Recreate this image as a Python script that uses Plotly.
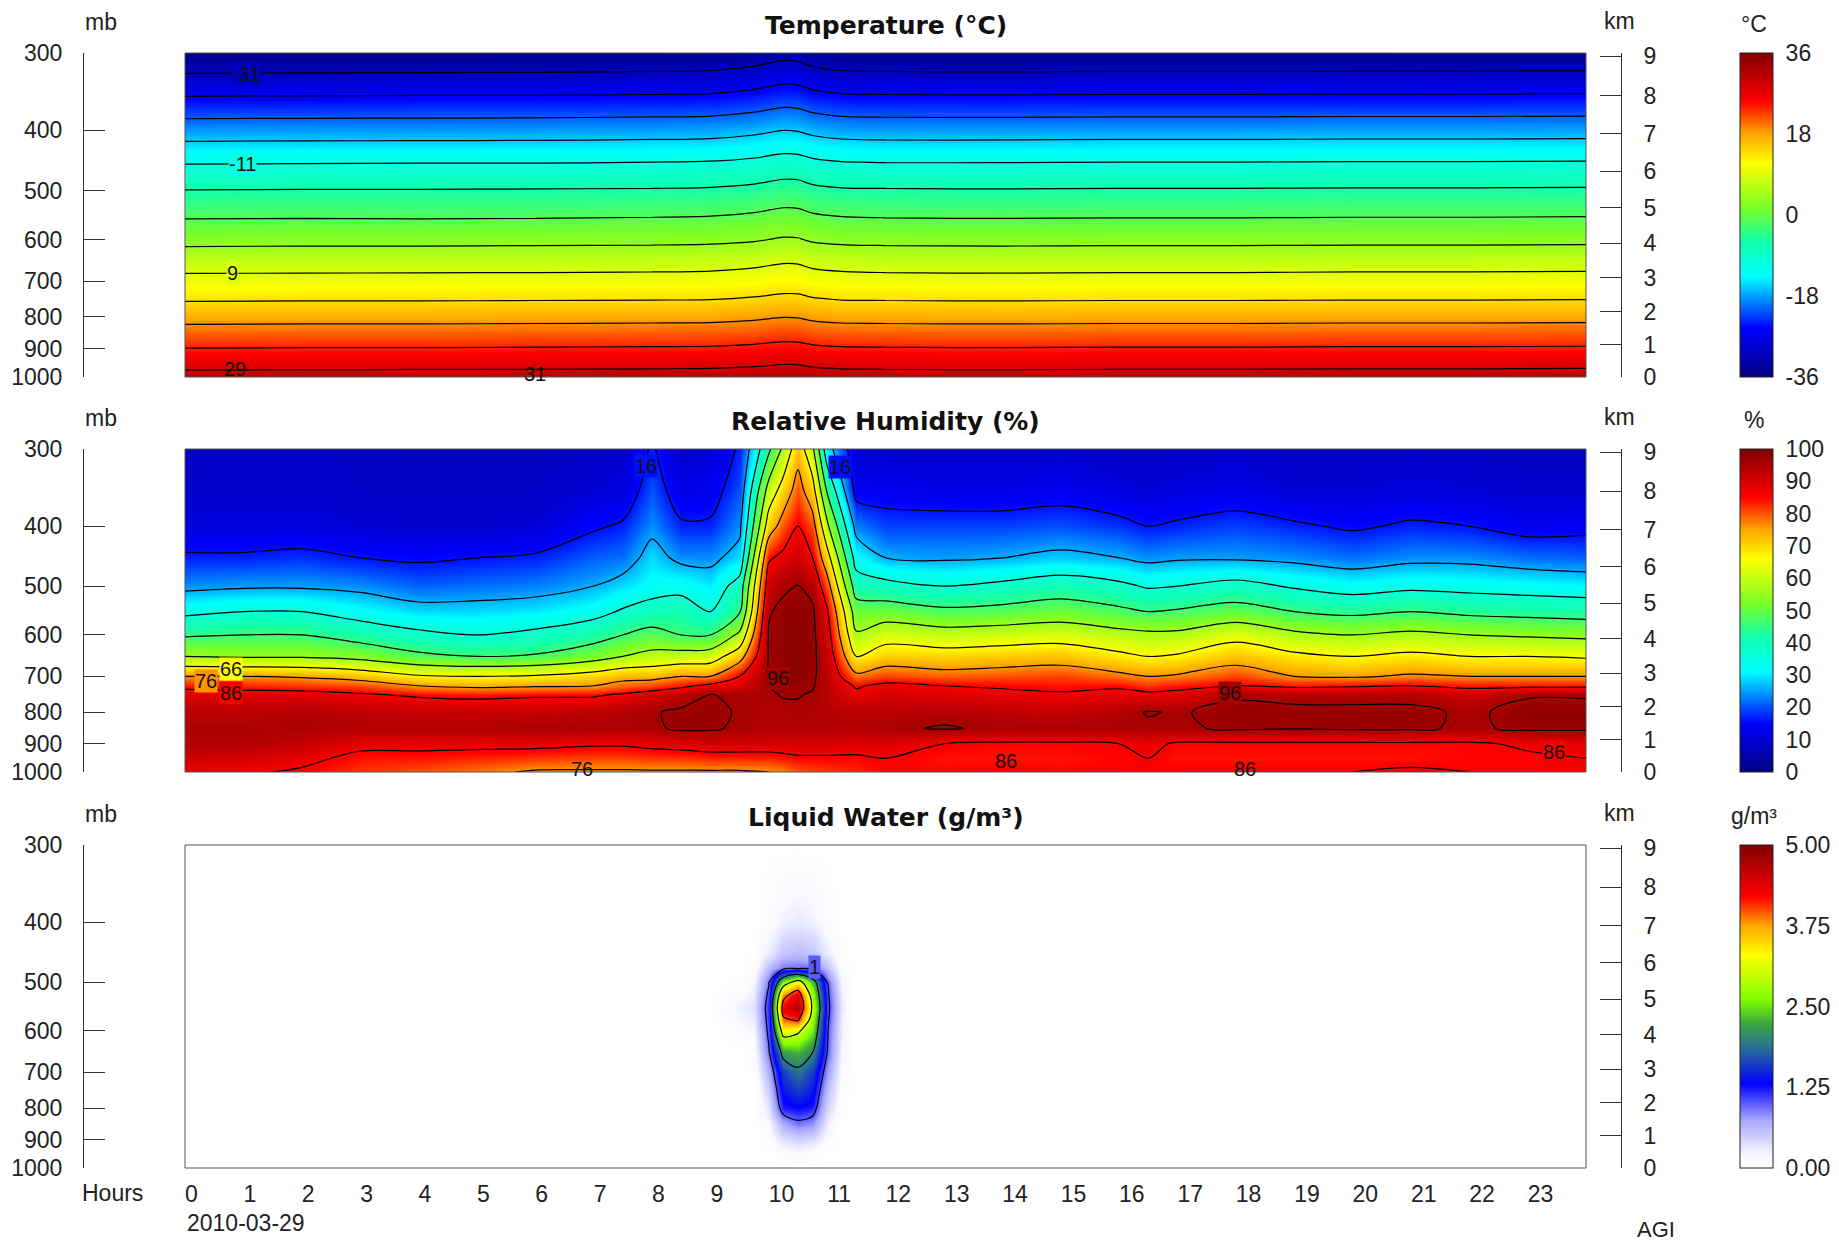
import numpy as np
import plotly.graph_objects as go
from plotly.colors import sample_colorscale

# ---------------- data ----------------
pressure_levels = [300, 350, 400, 450, 500, 550, 600, 650, 700, 725, 750, 800, 850, 900, 950, 1000]

temp_hours = [0, 2, 4, 6, 8, 9, 9.75, 10.25, 10.5, 10.75, 11.25, 12, 14, 16, 18, 20, 22, 24]
temp_profiles = [
    [-35.4, -26.4, -18.4, -11.4, -5.9, -1.5, 2.6, 6.9, 10.3, 12.0, 13.6, 17.4, 20.9, 24.1, 27.4, 30.6],
    [-35.3, -26.3, -18.3, -11.3, -5.8, -1.4, 2.7, 7.0, 10.3, 12.0, 13.7, 17.5, 21.0, 24.2, 27.5, 30.7],
    [-35.3, -26.2, -18.3, -11.2, -5.8, -1.5, 2.7, 7.0, 10.4, 12.1, 13.7, 17.5, 21.0, 24.2, 27.5, 30.8],
    [-35.2, -26.2, -18.2, -11.2, -5.7, -1.4, 2.8, 7.1, 10.4, 12.1, 13.8, 17.6, 21.1, 24.3, 27.6, 30.8],
    [-35.0, -26.0, -18.0, -11.0, -5.6, -1.2, 2.9, 7.2, 10.5, 12.2, 13.9, 17.7, 21.2, 24.4, 27.7, 30.9],
    [-34.8, -25.8, -17.8, -10.8, -5.4, -1.0, 3.1, 7.4, 10.6, 12.3, 14.0, 17.8, 21.3, 24.5, 27.8, 31.0],
    [-33.8, -24.9, -17.0, -10.1, -4.8, -0.4, 3.6, 7.9, 11.1, 12.8, 14.5, 18.3, 21.7, 24.9, 28.2, 31.4],
    [-32.6, -23.8, -16.0, -9.2, -3.9, 0.4, 4.4, 8.6, 11.8, 13.4, 15.1, 18.9, 22.3, 25.4, 28.7, 31.9],
    [-32.8, -24.0, -16.2, -9.3, -4.0, 0.3, 4.3, 8.5, 11.7, 13.4, 15.0, 18.8, 22.2, 25.3, 28.6, 31.8],
    [-33.9, -25.0, -17.1, -10.2, -4.9, -0.5, 3.5, 7.8, 11.0, 12.7, 14.4, 18.2, 21.6, 24.8, 28.1, 31.3],
    [-34.8, -25.8, -17.9, -10.9, -5.5, -1.1, 3.0, 7.3, 10.6, 12.3, 13.9, 17.7, 21.2, 24.4, 27.7, 30.9],
    [-35.0, -26.0, -18.1, -11.1, -5.6, -1.3, 2.8, 7.1, 10.4, 12.1, 13.8, 17.6, 21.1, 24.3, 27.6, 30.8],
    [-35.1, -26.1, -18.1, -11.1, -5.7, -1.4, 2.7, 7.0, 10.3, 12.0, 13.7, 17.5, 21.0, 24.2, 27.5, 30.7],
    [-35.0, -26.0, -18.0, -11.0, -5.6, -1.3, 2.8, 7.1, 10.4, 12.1, 13.8, 17.6, 21.1, 24.3, 27.6, 30.8],
    [-35.0, -26.0, -18.0, -11.0, -5.6, -1.3, 2.8, 7.1, 10.4, 12.1, 13.8, 17.6, 21.1, 24.3, 27.6, 30.8],
    [-35.0, -25.9, -17.9, -10.9, -5.5, -1.2, 2.9, 7.2, 10.5, 12.2, 13.9, 17.7, 21.2, 24.4, 27.7, 30.9],
    [-34.9, -25.9, -17.9, -10.9, -5.5, -1.2, 2.9, 7.2, 10.5, 12.2, 13.9, 17.7, 21.2, 24.4, 27.7, 30.9],
    [-34.9, -25.8, -17.8, -10.8, -5.4, -1.1, 3.0, 7.3, 10.6, 12.3, 14.0, 17.8, 21.3, 24.5, 27.8, 31.0],
]

rh_hours = [0, 1, 2, 3, 4, 5, 6, 7, 7.5, 8, 8.5, 9, 9.5, 10, 10.25, 10.5, 10.75, 11, 11.5, 12,
            13, 14, 15, 16, 16.5, 17, 18, 19, 20, 21, 22, 23, 24]
rh_profiles = [
    [8, 9, 11, 17, 24, 34, 45, 56, 76, 84, 89, 93, 95, 94, 91, 88],
    [8, 9, 11, 17, 25, 36, 46, 55, 76, 83, 89, 93, 95, 94, 90, 87],
    [8, 9, 11, 18, 25, 36, 46, 55, 75, 82, 89, 94, 95, 92, 88, 85],
    [8, 8, 10, 16, 24, 32, 42, 53, 72, 81, 87, 93, 94, 88, 84, 82],
    [7, 8, 9, 15, 21, 29, 38, 48, 67, 76, 85, 92, 94, 88, 84, 80],
    [7, 8, 9, 16, 22, 29, 36, 46, 66, 74, 84, 92, 94, 88, 83, 78],
    [7, 8, 10, 17, 23, 30, 38, 47, 67, 75, 85, 92, 95, 88, 82, 75],
    [8, 10, 15, 21, 26, 33, 42, 52, 70, 76, 85, 93, 95, 87, 81, 75],
    [9, 11, 17, 22, 29, 37, 46, 56, 73, 79, 87, 94, 94.5, 87, 81, 75],
    [17, 20, 24, 29, 32, 40, 49, 59, 73, 81, 90, 95.5, 95, 88, 82, 75],
    [9, 12, 17, 24, 33, 41, 46, 60, 76, 84, 93, 97, 97, 89, 82, 75],
    [10, 13, 17, 24, 30, 36, 46, 61, 76, 88, 96.2, 97.3, 96.8, 90, 83, 75],
    [17, 20, 24, 29, 40, 45, 58, 72, 86, 89, 95, 95.5, 95, 90, 83, 75],
    [44, 60, 71, 85, 91, 95.5, 96.5, 96.5, 96.5, 96, 95, 94, 94, 90, 83, 76],
    [58, 70, 80, 88, 95, 97.5, 98, 98, 98, 97.5, 96.5, 94, 94, 90, 84, 77],
    [72, 80, 86, 91, 96.2, 98.5, 99, 99, 98.5, 97.5, 96.3, 95, 94, 90, 85, 80],
    [58, 70, 80, 86, 94, 97, 97.5, 97.5, 97, 96.5, 95.5, 94.5, 94, 90, 85, 81],
    [30, 45, 58, 70, 80, 87, 90, 92, 93, 93, 93, 94, 94, 90, 85, 82],
    [10, 13, 23, 32, 41, 51, 57, 66, 78, 85, 88, 93, 94, 89, 85, 83],
    [9, 13, 19, 26, 39, 51, 62, 71, 81, 88, 90, 93, 95, 89, 86, 85],
    [9, 12, 19, 25, 36, 48, 60, 70, 79, 86, 89, 94, 96.5, 86, 84, 85],
    [9, 12, 19, 26, 38, 49, 61, 71, 80, 85, 88, 93, 95, 85, 84, 86],
    [9, 13, 20, 28, 41, 51, 62, 72, 81, 84, 87, 92, 95, 85, 84, 85],
    [8, 11, 18, 26, 38, 48, 59, 68, 78, 85, 88, 94, 95, 86, 85, 86],
    [8, 10, 16, 24, 35, 46, 58, 66, 76, 82, 88, 96.4, 95, 88, 86, 86],
    [8, 11, 17, 25, 36, 47, 58, 67, 77, 84, 88, 95.5, 95, 85, 84, 86],
    [9, 12, 19, 25, 39, 50, 63, 72, 81, 86, 95.3, 97.5, 97, 85, 84, 86],
    [8, 10, 17, 24, 35, 46, 58, 68, 76, 84, 94.5, 97.2, 96.3, 85, 84, 86],
    [8, 10, 15, 22, 32, 44, 56, 66, 75, 85, 94, 97.5, 97, 85, 84, 86],
    [8, 11, 17, 24, 34, 46, 58, 68, 77, 86, 94, 97.5, 97, 85, 84, 87],
    [8, 10, 16, 24, 33, 44, 56, 66, 76, 84, 91, 95, 95, 85, 85, 86],
    [7, 9, 13, 22, 32, 43, 55, 66, 76, 84, 95.5, 97.8, 97.2, 87, 85, 86],
    [7, 9, 14, 21, 31, 42, 54, 65, 76, 84, 95.5, 97.8, 97.2, 88, 86, 86],
]

lwc_pressure_levels = [300, 400, 450, 475, 500, 525, 550, 575, 600, 650, 700, 750, 800, 850, 900, 950, 1000]
lwc_hours = [0, 9, 9.5, 9.75, 10, 10.25, 10.5, 10.75, 11, 11.25, 11.5, 12, 24]
lwc_profiles = [
    [0, 0, 0, 0, 0, 0, 0, 0, 0, 0, 0, 0, 0, 0, 0, 0, 0],
    [0, 0, 0, 0, 0, 0, 0, 0, 0, 0, 0, 0, 0, 0, 0, 0, 0],
    [0, 0, 0, 0, 0.05, 0.15, 0.25, 0.2, 0.1, 0, 0, 0, 0, 0, 0, 0, 0],
    [0, 0, 0.05, 0.1, 0.2, 0.3, 0.35, 0.3, 0.2, 0.1, 0.05, 0, 0, 0, 0, 0, 0],
    [0, 0.1, 0.3, 0.6, 0.95, 1.1, 1.2, 1.15, 1.1, 0.95, 0.7, 0.5, 0.35, 0.2, 0.1, 0, 0],
    [0, 0.25, 0.55, 0.9, 2.6, 3.8, 4.3, 3.9, 3.3, 2.2, 1.6, 1.4, 1.2, 0.7, 0.35, 0.1, 0],
    [0, 0.3, 0.6, 0.95, 3.3, 4.4, 4.7, 4.1, 3.1, 2.3, 1.9, 1.6, 1.3, 0.9, 0.45, 0.15, 0],
    [0, 0.25, 0.55, 0.9, 2.3, 2.7, 2.9, 2.7, 2.5, 2.0, 1.6, 1.4, 1.2, 0.8, 0.4, 0.1, 0],
    [0, 0.1, 0.3, 0.6, 1.0, 1.1, 1.15, 1.1, 1.05, 1.0, 0.8, 0.6, 0.45, 0.3, 0.15, 0, 0],
    [0, 0, 0.05, 0.1, 0.2, 0.25, 0.3, 0.25, 0.25, 0.2, 0.15, 0.1, 0.05, 0, 0, 0, 0],
    [0, 0, 0, 0, 0, 0, 0, 0, 0, 0, 0, 0, 0, 0, 0, 0, 0],
    [0, 0, 0, 0, 0, 0, 0, 0, 0, 0, 0, 0, 0, 0, 0, 0, 0],
    [0, 0, 0, 0, 0, 0, 0, 0, 0, 0, 0, 0, 0, 0, 0, 0, 0],
]

hour_ticks = list(range(24))
pressure_ticks = [300, 400, 500, 600, 700, 800, 900, 1000]
km_ticks = list(range(10))

temp_cbar_ticks = [-36, -18, 0, 18, 36]
rh_cbar_ticks = list(range(0, 101, 10))
lwc_cbar_ticks = [0, 1.25, 2.5, 3.75, 5.0]

# contour labels shown on the chart: (text, hour, pressure, level)
temp_labels = [("-31", 1.05, 324, -31), ("-11", 0.98, 453, -11), ("9", 0.82, 679, 9),
               ("29", 0.85, 972, 29), ("31", 6.0, 990, 31)]
rh_labels = [("16", 7.9, 320, 16), ("16", 11.22, 321, 16), ("66", 0.78, 680, 66),
             ("76", 0.36, 713, 76), ("86", 0.78, 746, 86), ("96", 10.15, 705, 96),
             ("96", 17.9, 745, 96), ("86", 14.07, 961, 86), ("86", 23.45, 927, 86),
             ("76", 6.8, 988, 76), ("86", 18.15, 988, 86)]
lwc_labels = [("1", 10.78, 473, 1)]

# ---------------- layout helpers ----------------
W, H, OFF = 1831, 1234, 8


def FX(x):
    return (x - OFF) / W


def FY(y):
    return 1 - (y - OFF) / H


JET = [[0.0, "rgb(0,0,130)"], [0.15, "rgb(0,0,255)"], [0.31, "rgb(0,255,255)"],
       [0.42, "rgb(20,255,170)"], [0.52, "rgb(120,255,40)"], [0.66, "rgb(255,255,0)"],
       [0.75, "rgb(255,165,0)"], [0.85, "rgb(255,0,0)"], [1.0, "rgb(128,0,0)"]]
LWCSCALE = [[0.0, "rgb(255,255,255)"], [0.04, "rgb(248,248,255)"], [0.15, "rgb(165,165,255)"],
            [0.26, "rgb(0,0,255)"], [0.37, "rgb(40,110,150)"], [0.45, "rgb(60,170,60)"],
            [0.52, "rgb(128,255,0)"], [0.66, "rgb(255,255,0)"], [0.75, "rgb(255,165,0)"],
            [0.84, "rgb(255,0,0)"], [1.0, "rgb(128,0,0)"]]

TICKFONT = dict(family="Liberation Sans, Arial, sans-serif", size=23, color="#222")
panels = [(53, 377), (449, 772), (845, 1168)]
km_pressure = [1000 * (1 - 2.25577e-5 * k * 1000) ** 5.25588 for k in km_ticks]
prange = [np.log10(1000), np.log10(300)]

fig = go.Figure()


def add_panel(i, hours, plevels, profiles, scale, zmin, zmax, cstart, cend, csize, cticks, ctickfmt):
    top, bot = panels[i]
    z = np.array(profiles, dtype=float).T
    xa = "x" if i == 0 else f"x{i+1}"
    ya = "y" if i == 0 else f"y{i+1}"
    fig.add_trace(go.Heatmap(
        x=hours, y=plevels, z=z, xaxis=xa, yaxis=ya, zsmooth="best",
        colorscale=scale, zmin=zmin, zmax=zmax, hoverinfo="skip",
        colorbar=dict(
            x=FX(1740), xanchor="left", xpad=0, ypad=0,
            y=FY(top), yanchor="top", len=(bot - top) / H, lenmode="fraction",
            thickness=33, thicknessmode="pixels",
            outlinewidth=1, outlinecolor="#222",
            tickvals=cticks, ticktext=[ctickfmt(v) for v in cticks],
            ticks="outside", ticklen=8, tickcolor="rgba(0,0,0,0)",
            tickfont=TICKFONT,
        ),
    ))
    fig.add_trace(go.Contour(
        x=hours, y=plevels, z=z, xaxis=xa, yaxis=ya,
        autocontour=False, showscale=False,
        contours=dict(start=cstart, end=cend, size=csize, coloring="none", showlines=True),
        line=dict(color="black", width=1.2, smoothing=0.9),
        hoverinfo="skip",
    ))
    # invisible trace so that the km axis of this panel is drawn
    fig.add_trace(go.Scatter(x=[None], y=[None], xaxis=xa, yaxis=f"y{i+4}",
                             mode="markers", showlegend=False, hoverinfo="skip"))


add_panel(0, temp_hours, pressure_levels, temp_profiles, JET, -36, 36, -31, 29, 5,
          temp_cbar_ticks, lambda v: f"{v:d}")
add_panel(1, rh_hours, pressure_levels, rh_profiles, JET, 0, 100, 16, 96, 10,
          rh_cbar_ticks, lambda v: f"{v:d}")
add_panel(2, lwc_hours, lwc_pressure_levels, lwc_profiles, LWCSCALE, 0, 5, 1, 4, 1,
          lwc_cbar_ticks, lambda v: f"{v:.2f}")

layout = dict(width=W, height=H, margin=dict(l=0, r=0, t=0, b=0, pad=0, autoexpand=False),
              paper_bgcolor="white", plot_bgcolor="white", showlegend=False)
shapes = []
annotations = []
for i, (top, bot) in enumerate(panels):
    sx = "" if i == 0 else str(i + 1)
    layout[f"xaxis{sx}"] = dict(
        domain=[FX(185), FX(1586)], range=[0, 24], anchor=f"y{sx}",
        showgrid=False, zeroline=False, showline=False, ticks="",
        showticklabels=(i == 2),
        tickvals=hour_ticks, ticktext=[str(h) for h in hour_ticks],
        ticklabelposition="outside right", ticklabelstandoff=10,
        tickfont=TICKFONT,
    )
    layout[f"yaxis{sx}"] = dict(
        domain=[FY(bot), FY(top)], type="log", range=prange,
        anchor="free", position=FX(83),
        showgrid=False, zeroline=False, showline=True, linecolor="#333", linewidth=1,
        ticks="inside", ticklen=21, tickcolor="#333", tickwidth=1,
        tickvals=pressure_ticks, ticktext=[str(p) for p in pressure_ticks],
        tickfont=TICKFONT, ticklabelstandoff=16,
    )
    layout[f"yaxis{i+4}"] = dict(
        overlaying=f"y{sx}", side="right", type="log", range=prange,
        anchor="free", position=FX(1621),
        showgrid=False, zeroline=False, showline=True, linecolor="#333", linewidth=1,
        ticks="inside", ticklen=21, tickcolor="#333", tickwidth=1,
        tickvals=km_pressure, ticktext=[str(k) for k in km_ticks],
        tickfont=TICKFONT, ticklabelstandoff=17,
    )
    shapes.append(dict(type="rect", xref=f"x{sx} domain", yref=f"y{sx} domain",
                       x0=0, x1=1, y0=0, y1=1, line=dict(color="#555", width=1), layer="above"))
    annotations.append(dict(text="mb", xref="paper", yref="paper", x=FX(83), y=FY(top - 31),
                            xanchor="left", yanchor="middle", showarrow=False, font=TICKFONT))
    annotations.append(dict(text="km", xref="paper", yref="paper", x=FX(1602), y=FY(top - 32),
                            xanchor="left", yanchor="middle", showarrow=False, font=TICKFONT))

titles = ["Temperature (°C)", "Relative Humidity (%)", "Liquid Water (g/m³)"]
units = ["°C", "%", "g/m³"]
for i, (top, bot) in enumerate(panels):
    annotations.append(dict(text=f"<b>{titles[i]}</b>", xref="paper", yref="paper",
                            x=FX(885.5), y=FY(top - 28), xanchor="center", yanchor="middle",
                            showarrow=False,
                            font=dict(family="DejaVu Sans, sans-serif", size=25, color="#111")))
    annotations.append(dict(text=units[i], xref="paper", yref="paper", x=FX(1754), y=FY(top - 29),
                            xanchor="center", yanchor="middle", showarrow=False, font=TICKFONT))

LABELFONT = dict(family="Liberation Sans, Arial, sans-serif", size=20, color="#111")
for i, (labels, scale, zmin, zmax) in enumerate([(temp_labels, JET, -36, 36),
                                                   (rh_labels, JET, 0, 100),
                                                   (lwc_labels, LWCSCALE, 0, 5)]):
    sx = "" if i == 0 else str(i + 1)
    for text, hx, p, lev in labels:
        ann = dict(text=text, xref=f"x{sx}", yref=f"y{sx}", x=hx, y=np.log10(p),
                   showarrow=False, font=LABELFONT, borderpad=0)
        if p < 960:
            ann["bgcolor"] = sample_colorscale(scale, [(lev - zmin) / (zmax - zmin)])[0]
        annotations.append(ann)

annotations.append(dict(text="Hours", xref="paper", yref="paper", x=FX(80), y=FY(1193),
                        xanchor="left", yanchor="middle", showarrow=False, font=TICKFONT))
annotations.append(dict(text="2010-03-29", xref="paper", yref="paper", x=FX(185), y=FY(1223),
                        xanchor="left", yanchor="middle", showarrow=False, font=TICKFONT))
annotations.append(dict(text="AGI", xref="paper", yref="paper", x=FX(1656), y=FY(1229),
                        xanchor="center", yanchor="middle", showarrow=False,
                        font=dict(family="Liberation Sans, Arial, sans-serif", size=22, color="#222")))

layout["shapes"] = shapes
layout["annotations"] = annotations
fig.update_layout(**layout)

fig.write_html("out.html")
